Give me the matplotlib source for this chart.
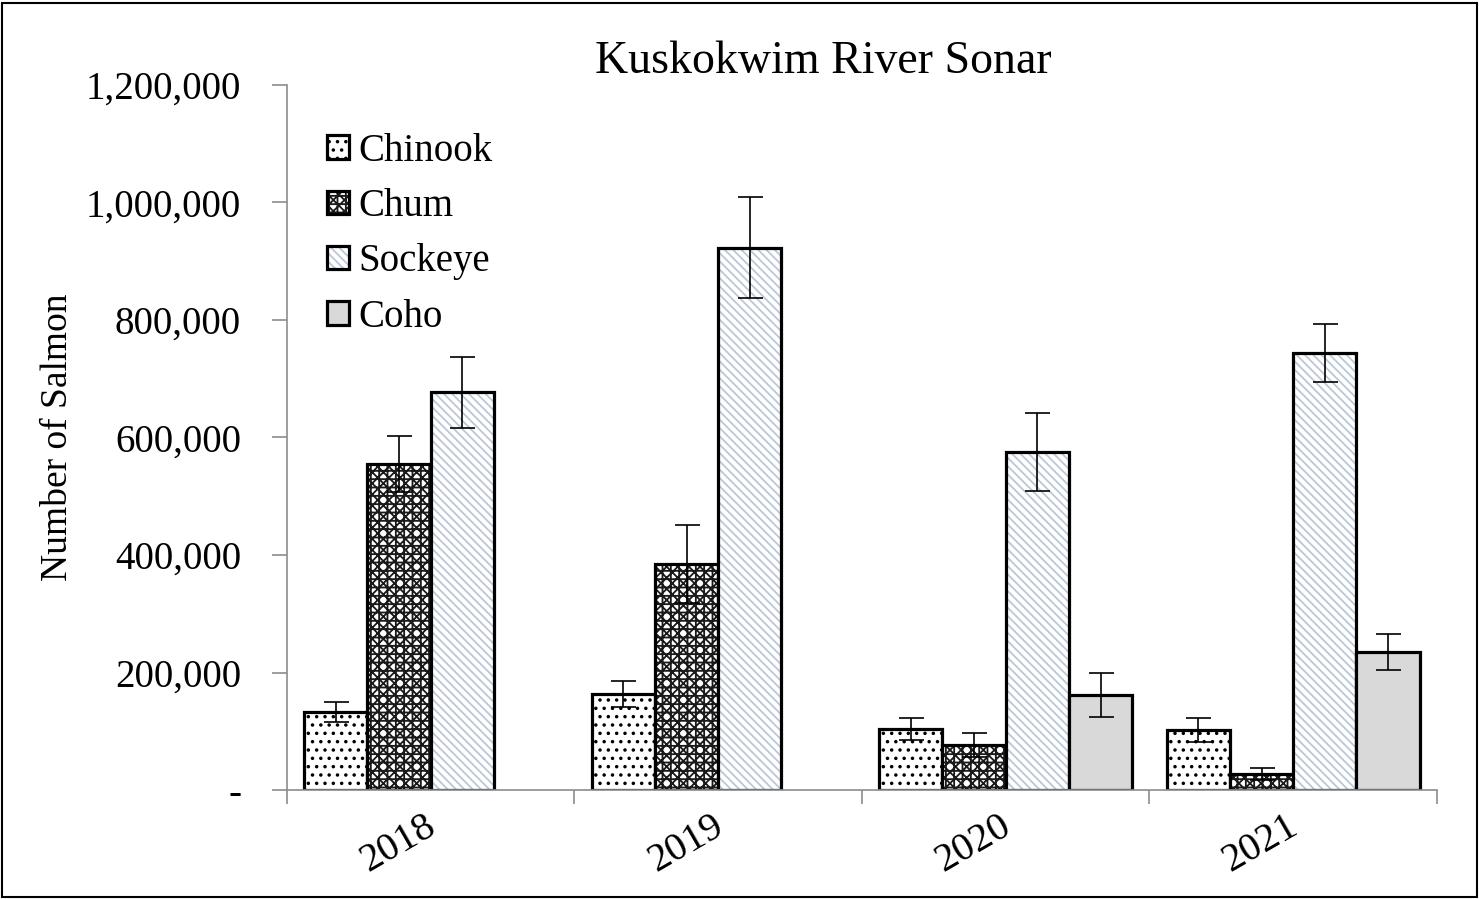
import numpy as np
import matplotlib.pyplot as plt
import matplotlib.transforms as mtransforms
from matplotlib.patches import Patch, Rectangle
from matplotlib.legend_handler import HandlerTuple
from matplotlib.ticker import FuncFormatter

years = ["2018", "2019", "2020", "2021"]
species = ["Chinook", "Chum", "Sockeye", "Coho"]

# estimates per species (np.nan = no count that year)
chinook = [133000, 163000, 104000, 102000]
chum = [555000, 385000, 77000, 27000]
sockeye = [677000, 923000, 575000, 744000]
coho = [np.nan, np.nan, 162000, 235000]

chinook_err = [17000, 22000, 18000, 20000]
chum_err = [47000, 66000, 20000, 10000]
sockeye_err = [60000, 86000, 66000, 50000]
coho_err = [np.nan, np.nan, 38000, 30000]

values = [chinook, chum, sockeye, coho]
errors = [chinook_err, chum_err, sockeye_err, coho_err]

# (face colour, hatch, hatch colour)
styles = [
    ("white", "..", "black"),
    ("white", "xxx++", "#1a1a1a"),
    ("white", "\\\\\\\\", "#bcc7d8"),
    ("#d9d9d9", "", "#d9d9d9"),
]

plt.rcParams["font.family"] = ["Liberation Serif", "DejaVu Serif"]
plt.rcParams["hatch.linewidth"] = 1.3

fig = plt.figure(figsize=(14.79, 8.99), dpi=100)
ax = fig.add_axes([0.194, 0.1212, 0.7776, 0.7843])

x = np.arange(len(years))
width = 0.22
handles = []
for i, name in enumerate(species):
    face, hatch, hcolor = styles[i]
    pos = x + (i - 1.5) * width
    # hatch layer first, then black outline on top
    ax.bar(pos, values[i], width, color=face, hatch=hatch, edgecolor=hcolor, linewidth=0)
    ax.bar(pos, values[i], width, fill=False, edgecolor="black", linewidth=2.3)
    ax.errorbar(pos, values[i], yerr=errors[i], fmt="none", ecolor="black",
                elinewidth=1.2, capsize=9, capthick=1.2)
    h1 = Patch(facecolor=face, hatch=hatch, edgecolor=hcolor, linewidth=0)
    h2 = Patch(fill=False, edgecolor="black", linewidth=2.3)
    handles.append((h1, h2))

ax.set_xlim(-0.5, 3.5)
ax.set_ylim(0, 1200000)
ax.set_yticks(np.arange(0, 1200001, 200000))
ax.yaxis.set_major_formatter(FuncFormatter(lambda v, p: "-" if v == 0 else f"{int(v):,}"))
ax.tick_params(axis="y", labelsize=28, length=11, width=1.2, color="#8c8c8c", pad=22)

ax.set_xticks(x)
ax.set_xticklabels(years, rotation=30, ha="right", va="top", rotation_mode="anchor", fontsize=29)
ax.set_xticks(np.arange(-0.5, 4.0, 1), minor=True)
ax.tick_params(axis="x", which="major", length=0, pad=13)
ax.tick_params(axis="x", which="minor", length=10, width=1.2, color="#8c8c8c")
# nudge year labels a little to the left
shift = mtransforms.ScaledTranslation(-0.07, 0, fig.dpi_scale_trans)
for lab in ax.get_xticklabels():
    lab.set_transform(lab.get_transform() + shift)

for side in ["top", "right"]:
    ax.spines[side].set_visible(False)
for side in ["left", "bottom"]:
    ax.spines[side].set_color("#8c8c8c")
    ax.spines[side].set_linewidth(1.2)

ax.set_ylabel("Number of Salmon", fontsize=27, labelpad=8)
fig.text(0.557, 0.931, "Kuskokwim River Sonar", ha="center", va="center", fontsize=33)

ax.legend(handles, species, handler_map={tuple: HandlerTuple(ndivide=1, pad=0)},
          loc="upper left", bbox_to_anchor=(0.035, 0.932), frameon=False, fontsize=28,
          handlelength=0.55, handleheight=0.55, handletextpad=0.25, labelspacing=0.47,
          borderaxespad=0, borderpad=0)

fig.add_artist(Rectangle((0.0015, 0.002), 0.997, 0.995, transform=fig.transFigure,
                         fill=False, edgecolor="black", linewidth=1.5))

fig.savefig("out.png", dpi=100)
